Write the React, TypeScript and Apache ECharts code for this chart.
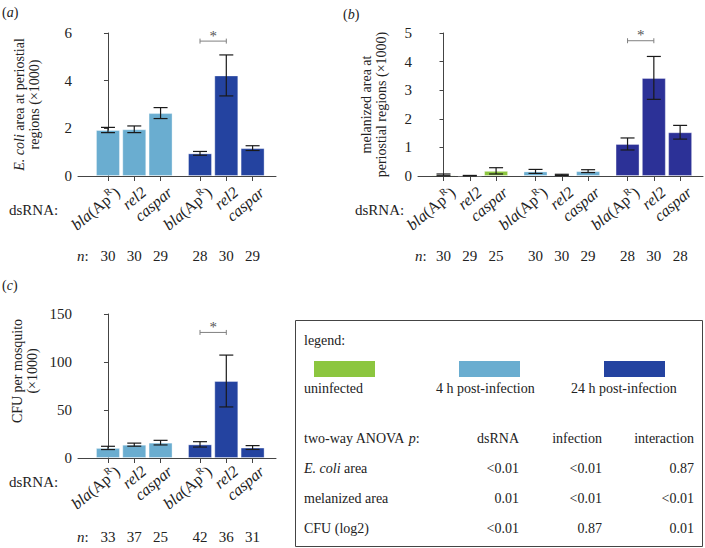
import React, { useEffect, useRef } from "react";
import * as echarts from "echarts";

const FONT = "Liberation Serif";
const INK = "#222222";
const AXIS = "#444444";

// colours
const GREEN = "#8cc63f";
const LIGHT = "#6aadd0";
const DARK = "#2443a0";
const DARK_B = "#2c3197";

// ---- Panel (a): E. coli area ----
const labelsA = ["bla(ApR)", "rel2", "caspar", "bla(ApR)", "rel2", "caspar"];
const posA = [0, 1, 2, 3.5, 4.5, 5.5];
const meanA = [1.93, 1.96, 2.64, 0.95, 4.22, 1.17];
const errA = [0.11, 0.14, 0.23, 0.08, 0.86, 0.1];
const colorA = [LIGHT, LIGHT, LIGHT, DARK, DARK, DARK];
const nA = [30, 30, 29, 28, 30, 29];
const sigA = [3.5, 4.5, 5.66];

// ---- Panel (b): melanized area ----
const labelsB = ["bla(ApR)", "rel2", "caspar", "bla(ApR)", "rel2", "caspar", "bla(ApR)", "rel2", "caspar"];
const posB = [0, 1, 2, 3.5, 4.5, 5.5, 7, 8, 9];
const meanB = [0.04, 0.01, 0.18, 0.16, 0.04, 0.17, 1.12, 3.43, 1.53];
const errB = [0.03, 0.01, 0.11, 0.07, 0.02, 0.05, 0.21, 0.75, 0.24];
const colorB = [GREEN, GREEN, GREEN, LIGHT, LIGHT, LIGHT, DARK_B, DARK_B, DARK_B];
const nB = [30, 29, 25, 30, 30, 29, 28, 30, 28];
const sigB = [7, 8, 4.73];

// ---- Panel (c): CFU ----
const labelsC = ["bla(ApR)", "rel2", "caspar", "bla(ApR)", "rel2", "caspar"];
const posC = [0, 1, 2, 3.5, 4.5, 5.5];
const meanC = [10.5, 13.9, 16.0, 14.2, 80.2, 10.9];
const errC = [1.7, 1.6, 2.4, 2.8, 27, 2.0];
const colorC = [LIGHT, LIGHT, LIGHT, DARK, DARK, DARK];
const nC = [33, 37, 25, 42, 36, 31];
const sigC = [3.5, 4.5, 130.8];

// ---- legend / ANOVA table ----
const legendLabels = ["uninfected", "4 h post-infection", "24 h post-infection"];
const legendColors = [GREEN, LIGHT, DARK];
const anovaColumns = ["dsRNA", "infection", "interaction"];
const anovaRows = ["E. coli area", "melanized area", "CFU (log2)"];
const anovaValues = [
  ["<0.01", "<0.01", "0.87"],
  ["0.01", "<0.01", "<0.01"],
  ["<0.01", "0.87", "0.01"],
];

const LABEL_SHIFT = 0.36;
const FS = 14;
const FS_X = 16;

const rich = {
  i: { fontStyle: "italic", fontSize: FS_X, fontFamily: FONT, color: INK, lineHeight: 20 },
  r: { fontSize: FS_X, fontFamily: FONT, color: INK, lineHeight: 20 },
  s: { fontSize: 10, fontFamily: FONT, color: INK, lineHeight: 10, verticalAlign: "top" },
};

function richLabel(name: string): string {
  if (name === "bla(ApR)") return "{i|bla}{r|(Ap}{s|R}{r|)}";
  return "{i|" + name + "}";
}

type PanelCfg = {
  idx: number;
  grid: { left: number; top: number; width: number; height: number };
  xmin: number;
  xmax: number;
  labels: string[];
  pos: number[];
  mean: number[];
  err: number[];
  colors: string[];
  n: number[];
  sig: number[];
  ymax: number;
  yint: number;
  yname: string;
  nameGap: number;
  namePadding: number[];
  labelMargin: number;
  nOffset: number;
};

function buildPanel(c: PanelCfg) {
  const grid = { ...c.grid, containLabel: false };
  const xAxis = {
    type: "value",
    gridIndex: c.idx,
    min: c.xmin,
    max: c.xmax,
    position: "bottom",
    axisLine: { show: true, onZero: false, lineStyle: { color: AXIS, width: 1 } },
    axisTick: { show: true, customValues: c.pos, length: 5, lineStyle: { color: AXIS } },
    axisLabel: {
      show: true,
      customValues: c.pos.map((p) => p + LABEL_SHIFT),
      rotate: 40,
      margin: c.labelMargin,
      fontSize: FS_X,
      fontFamily: FONT,
      color: INK,
      rich,
      formatter: (v: number) => {
        const i = c.pos.findIndex((p) => Math.abs(p + LABEL_SHIFT - v) < 1e-6);
        return i >= 0 ? richLabel(c.labels[i]) : "";
      },
    },
    splitLine: { show: false },
  };
  const yAxis = {
    type: "value",
    gridIndex: c.idx,
    min: 0,
    max: c.ymax,
    interval: c.yint,
    axisLine: { show: true, lineStyle: { color: AXIS, width: 1 } },
    axisTick: { show: true, length: 4, lineStyle: { color: AXIS } },
    axisLabel: { margin: 6, fontSize: 15, fontFamily: FONT, color: INK },
    splitLine: { show: false },
    name: c.yname,
    nameLocation: "middle",
    nameRotate: 90,
    nameGap: c.nameGap,
    nameTextStyle: {
      fontSize: 14,
      fontFamily: FONT,
      color: INK,
      lineHeight: 15,
      padding: c.namePadding,
      rich: {
        i: { fontStyle: "italic", fontSize: 14, fontFamily: FONT, color: INK, lineHeight: 15 },
      },
    },
  };
  const series: any[] = [
    {
      type: "bar",
      xAxisIndex: c.idx,
      yAxisIndex: c.idx,
      barWidth: 24,
      silent: true,
      itemStyle: { borderColor: "rgba(255,255,255,0.35)", borderWidth: 1 },
      data: c.pos.map((p, i) => ({ value: [p, c.mean[i]], itemStyle: { color: c.colors[i] } })),
      z: 2,
    },
    {
      type: "custom",
      xAxisIndex: c.idx,
      yAxisIndex: c.idx,
      silent: true,
      z: 5,
      encode: { x: 0, y: [1, 2] },
      data: c.pos.map((p, i) => [p, Math.max(0, c.mean[i] - c.err[i]), c.mean[i] + c.err[i]]),
      renderItem: (params: any, api: any) => {
        const x = api.value(0);
        const top = api.coord([x, api.value(2)]);
        const bot = api.coord([x, api.value(1)]);
        const hw = 7;
        const st = { stroke: "#1a1a1a", lineWidth: 1.2 };
        return {
          type: "group",
          children: [
            { type: "line", shape: { x1: top[0], y1: top[1], x2: bot[0], y2: bot[1] }, style: st },
            { type: "line", shape: { x1: top[0] - hw, y1: top[1], x2: top[0] + hw, y2: top[1] }, style: st },
            { type: "line", shape: { x1: bot[0] - hw, y1: bot[1], x2: bot[0] + hw, y2: bot[1] }, style: st },
          ],
        };
      },
    },
    {
      type: "custom",
      xAxisIndex: c.idx,
      yAxisIndex: c.idx,
      silent: true,
      z: 5,
      encode: { x: 0 },
      data: c.pos.map((p, i) => [p, c.n[i]]),
      renderItem: (params: any, api: any) => {
        const pt = api.coord([api.value(0), 0]);
        return {
          type: "text",
          x: pt[0],
          y: pt[1] + c.nOffset,
          style: {
            text: String(api.value(1)),
            fontSize: 15,
            fontFamily: FONT,
            fill: INK,
            align: "center",
            verticalAlign: "middle",
          },
        };
      },
    },
    {
      type: "custom",
      xAxisIndex: c.idx,
      yAxisIndex: c.idx,
      silent: true,
      z: 5,
      encode: { x: [0, 1], y: 2 },
      data: [c.sig],
      renderItem: (params: any, api: any) => {
        const a = api.coord([api.value(0), api.value(2)]);
        const b = api.coord([api.value(1), api.value(2)]);
        const st = { stroke: "#808080", lineWidth: 1 };
        return {
          type: "group",
          children: [
            { type: "line", shape: { x1: a[0], y1: a[1], x2: b[0], y2: b[1] }, style: st },
            { type: "line", shape: { x1: a[0], y1: a[1] - 2.5, x2: a[0], y2: a[1] + 2.5 }, style: st },
            { type: "line", shape: { x1: b[0], y1: b[1] - 2.5, x2: b[0], y2: b[1] + 2.5 }, style: st },
            {
              type: "text",
              x: (a[0] + b[0]) / 2,
              y: a[1] + 2,
              style: {
                text: "*",
                fontSize: 15,
                fontFamily: FONT,
                fill: "#555",
                align: "center",
                verticalAlign: "bottom",
              },
            },
          ],
        };
      },
    },
  ];
  return { grid, xAxis, yAxis, series };
}

function txt(x: number, y: number, text: string, opts: any = {}) {
  const size = opts.fontSize || FS;
  return {
    type: "text",
    x,
    y,
    silent: true,
    style: {
      text,
      fontSize: size,
      fontFamily: FONT,
      fill: INK,
      align: "left",
      verticalAlign: "middle",
      rich: {
        i: { fontStyle: "italic", fontSize: size, fontFamily: FONT, fill: INK },
        r: { fontSize: size, fontFamily: FONT, fill: INK },
      },
      ...opts,
    },
  };
}

export default function App() {
  const ref = useRef<HTMLDivElement>(null);

  useEffect(() => {
    document.body.style.margin = "0";
    if (!ref.current) return;
    const chart = echarts.init(ref.current, undefined, { renderer: "svg" });

    const panels = [
      buildPanel({
        idx: 0,
        grid: { left: 78, top: 33, width: 198, height: 143 },
        xmin: -1.14,
        xmax: 6.39,
        labels: labelsA,
        pos: posA,
        mean: meanA,
        err: errA,
        colors: colorA,
        n: nA,
        sig: sigA,
        ymax: 6,
        yint: 2,
        yname: "{i|E. coli} area at periostial\nregions (×1000)",
        nameGap: 36,
        namePadding: [0, 0, 0, 0],
        labelMargin: 14,
        nOffset: 80,
      }),
      buildPanel({
        idx: 1,
        grid: { left: 418, top: 33, width: 285, height: 143 },
        xmin: -0.97,
        xmax: 9.87,
        labels: labelsB,
        pos: posB,
        mean: meanB,
        err: errB,
        colors: colorB,
        n: nB,
        sig: sigB,
        ymax: 5,
        yint: 1,
        yname: "melanized area at\nperiostial regions (×1000)",
        nameGap: 29,
        namePadding: [0, 0, 0, 0],
        labelMargin: 14,
        nOffset: 80,
      }),
      buildPanel({
        idx: 2,
        grid: { left: 78, top: 314, width: 198, height: 144 },
        xmin: -1.14,
        xmax: 6.39,
        labels: labelsC,
        pos: posC,
        mean: meanC,
        err: errC,
        colors: colorC,
        n: nC,
        sig: sigC,
        ymax: 150,
        yint: 50,
        yname: "CFU per mosquito\n(×1000)",
        nameGap: 38,
        namePadding: [0, 0, 0, 30],
        labelMargin: 11,
        nOffset: 79,
      }),
    ];

    const graphic: any[] = [
      txt(2, 12, "{r|(}{i|a}{r|)}"),
      txt(343, 14, "{r|(}{i|b}{r|)}"),
      txt(2, 285, "{r|(}{i|c}{r|)}"),
      txt(9, 210, "dsRNA:", { fontSize: 15 }),
      txt(355, 210, "dsRNA:", { fontSize: 15 }),
      txt(9, 482, "dsRNA:", { fontSize: 15 }),
      txt(77, 256, "{i|n}{r|:}", { fontSize: 15 }),
      txt(415, 256, "{i|n}{r|:}", { fontSize: 15 }),
      txt(77, 537, "{i|n}{r|:}", { fontSize: 15 }),
      {
        type: "rect",
        silent: true,
        shape: { x: 295.5, y: 320.5, width: 407, height: 226 },
        style: { fill: "none", stroke: "#444", lineWidth: 1 },
      },
      txt(304, 340, "legend:"),
    ];

    const swatchX = [314, 459, 604];
    const labelX = [304, 436, 571];
    legendLabels.forEach((lab, i) => {
      graphic.push({
        type: "rect",
        silent: true,
        shape: { x: swatchX[i], y: 361, width: 61, height: 16 },
        style: { fill: legendColors[i] },
      });
      graphic.push(txt(labelX[i], 388, lab));
    });

    graphic.push(txt(304, 438, "two-way ANOVA {i|p}{r|:}"));
    const colRight = [519, 602, 694];
    anovaColumns.forEach((col, j) => {
      graphic.push(txt(colRight[j], 438, col, { align: "right" }));
    });
    const rowY = [468, 498, 528];
    anovaRows.forEach((row, r) => {
      const label = row === "E. coli area" ? "{i|E. coli} {r|area}" : row;
      graphic.push(txt(304, rowY[r], label));
      anovaValues[r].forEach((v, j) => {
        graphic.push(txt(colRight[j], rowY[r], v, { align: "right" }));
      });
    });

    const option: any = {
      animation: false,
      textStyle: { fontFamily: FONT },
      grid: panels.map((p) => p.grid),
      xAxis: panels.map((p) => p.xAxis),
      yAxis: panels.map((p) => p.yAxis),
      series: panels.flatMap((p) => p.series),
      graphic,
    };
    chart.setOption(option);
    return () => chart.dispose();
  }, []);

  return <div ref={ref} style={{ width: 705, height: 548 }} />;
}
